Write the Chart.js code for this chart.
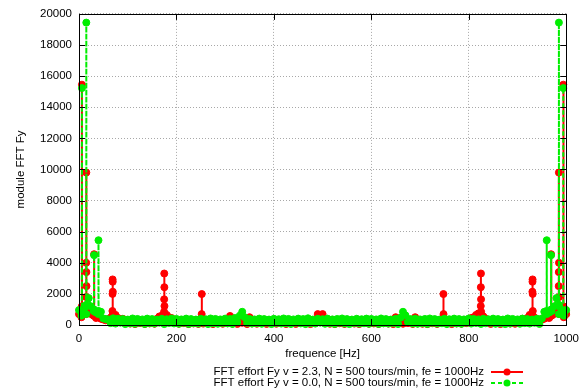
<!DOCTYPE html>
<html>
<head>
<meta charset="utf-8">
<script src="https://cdn.jsdelivr.net/npm/chart.js@4/dist/chart.umd.min.js"></script>
<style>
  html, body { margin: 0; padding: 0; background: #fff; }
  canvas { display: block; }
</style>
</head>
<body>
<canvas id="fftChart" width="586" height="392"></canvas>
<script>
// noise floor, one value per 5 Hz bin from 0 to 1000 Hz
const noiseStep = 5;

const greenNoise = [
  960,600,800,700,1730,1200,900,800,700,850,420,380,360,120,430,90,400,150,380,60,
  350,110,420,80,390,140,360,70,410,120,380,90,350,150,400,60,370,130,420,100,
  390,80,360,140,410,70,380,120,350,90,400,150,370,60,420,110,390,80,360,130,
  410,100,380,70,450,180,600,850,500,140,390,90,360,120,410,80,380,150,350,60,
  400,130,370,90,420,110,390,70,360,140,410,100,380,60,430,120,350,90,400,150,
  370,80,410,120,360,70,390,140,420,100,380,60,350,130,400,90,370,110,410,80,
  390,140,360,70,420,110,380,90,350,130,400,60,470,850,620,200,380,100,410,80,
  360,120,390,70,420,140,380,90,350,110,400,60,370,130,410,100,380,80,360,150,
  420,90,390,130,360,70,400,110,370,140,410,80,380,120,350,60,420,100,390,150,
  360,80,410,120,380,90,350,140,400,70,420,850,700,800,900,1200,1730,700,800,600,
  960
];

const redNoise = [
  700,500,900,1000,800,700,600,450,500,400,350,300,380,480,700,650,450,300,400,120,
  300,90,320,60,340,120,280,70,310,100,290,80,400,550,600,750,650,500,450,300,
  280,80,310,120,350,60,290,100,330,70,300,90,320,110,280,60,340,120,300,80,
  310,120,580,90,300,70,350,140,280,60,500,100,320,80,290,120,340,70,300,110,
  290,80,320,120,300,60,340,100,280,70,310,130,300,90,330,60,290,120,700,300,
  700,120,300,80,330,60,290,110,320,70,300,130,280,90,340,60,310,120,290,80,
  320,100,300,70,340,120,280,90,310,60,500,110,300,80,330,120,290,70,500,100,
  300,80,320,60,290,110,330,70,300,120,280,90,310,60,340,100,290,80,310,120,
  300,450,500,650,750,600,550,400,320,70,290,110,330,60,300,120,280,90,310,80,
  300,120,400,300,450,650,700,480,380,300,350,400,500,450,600,700,800,1000,900,500,
  700
];

// spectral lines (Hz / module)
const redPeakFreq = [5.8,6,6.2, 14.4,14.6,14.8,15,15.2,15.4,15.6, 30.8,31,31.2,
  68.6,68.8,69,69.2,69.4,69.6, 174.6,174.8,175,175.2,175.4,175.6, 251.8,252,252.2,
  747.8,748,748.2, 824.4,824.6,824.8,825,825.2,825.4, 930.4,930.6,930.8,931,931.2,931.4,
  968.8,969,969.2, 984.4,984.6,984.8,985,985.2,985.4,985.6, 993.8,994,994.2];
const redPeakVal = [1200,15450,1100, 700,1800,4000,9800,3400,2500,1000, 600,4550,700,
  900,2000,2930,2780,2140,700, 850,1650,3310,2430,1220,700, 700,1990,400,
  400,1990,700, 700,1220,2430,3310,1650,850, 700,2140,2780,2930,2000,900,
  700,4550,600, 1000,2500,3400,9800,4000,1800,700, 1100,15450,1200];

const greenPeakFreq = [5.8,6,6.2, 14.8,15,15.2, 30.8,31,31.2, 39.8,40,40.2,
  959.8,960,960.2, 968.8,969,969.2, 984.8,985,985.2, 993.8,994,994.2];
const greenPeakVal = [900,15230,800, 1200,19440,1300, 1000,4490,900, 800,5450,900,
  900,5450,800, 900,4490,1000, 1300,19440,1200, 800,15230,900];

const xTicks = [0, 200, 400, 600, 800, 1000];
const yTicks = [0, 2000, 4000, 6000, 8000, 10000, 12000, 14000, 16000, 18000, 20000];

const redLabel = 'FFT effort Fy v = 2.3, N = 500 tours/min, fe = 1000Hz';
const greenLabel = 'FFT effort Fy v = 0.0, N = 500 tours/min, fe = 1000Hz';

function buildSeries(noise, peakFreq, peakVal) {
  const pts = noise.map((v, i) => ({ x: i * noiseStep, y: v }));
  peakFreq.forEach((f, i) => pts.push({ x: f, y: peakVal[i] }));
  pts.sort((a, b) => a.x - b.x);
  return pts;
}

const FONT = '"Liberation Sans", Arial, Helvetica, sans-serif';
const FSIZE = 11.5;

const gnuplotFrame = {
  id: 'gnuplotFrame',
  afterDatasetsDraw(chart) {
    const { ctx, chartArea: a, scales } = chart;
    ctx.save();
    ctx.strokeStyle = '#000';
    ctx.lineWidth = 1;
    ctx.setLineDash([]);
    ctx.beginPath();
    yTicks.forEach(v => {
      const y = Math.round(scales.y.getPixelForValue(v)) + 0.5;
      ctx.moveTo(a.left, y); ctx.lineTo(a.left + 6, y);
      ctx.moveTo(a.right, y); ctx.lineTo(a.right - 6, y);
    });
    xTicks.forEach(v => {
      const x = Math.round(scales.x.getPixelForValue(v)) + 0.5;
      ctx.moveTo(x, a.bottom); ctx.lineTo(x, a.bottom - 6);
      ctx.moveTo(x, a.top); ctx.lineTo(x, a.top + 6);
    });
    ctx.stroke();
    ctx.strokeRect(Math.round(a.left) + 0.5, Math.round(a.top) + 0.5,
      Math.round(a.right - a.left), Math.round(a.bottom - a.top));
    ctx.restore();
  },
  afterDraw(chart) {
    const { ctx, chartArea: a } = chart;
    ctx.save();
    ctx.fillStyle = '#000';
    ctx.font = FSIZE + 'px ' + FONT;
    // axis titles
    ctx.textAlign = 'center';
    ctx.textBaseline = 'middle';
    ctx.fillText('frequence [Hz]', (a.left + a.right) / 2, 354);
    ctx.save();
    ctx.translate(21, (a.top + a.bottom) / 2);
    ctx.rotate(-Math.PI / 2);
    ctx.fillText('module FFT Fy', 0, 0);
    ctx.restore();
    // legend
    const rows = [
      { label: redLabel, color: '#ff0000', dash: [] },
      { label: greenLabel, color: '#00ee00', dash: [4, 3] }
    ];
    rows.forEach((r, i) => {
      const y = 372 + i * 11;
      ctx.fillStyle = '#000';
      ctx.textAlign = 'right';
      ctx.fillText(r.label, 484, y);
      ctx.strokeStyle = r.color;
      ctx.lineWidth = 2;
      ctx.setLineDash(r.dash);
      ctx.beginPath();
      ctx.moveTo(491, y); ctx.lineTo(523, y);
      ctx.stroke();
      ctx.setLineDash([]);
      ctx.fillStyle = r.color;
      ctx.beginPath();
      ctx.arc(507, y, 3.5, 0, Math.PI * 2);
      ctx.fill();
    });
    ctx.restore();
  }
};

const fftData = {
  datasets: [
    {
      label: greenLabel,
      data: buildSeries(greenNoise, greenPeakFreq, greenPeakVal),
      borderColor: '#00ee00',
      backgroundColor: '#00ee00',
      borderWidth: 2,
      borderDash: [4, 3],
      pointRadius: 3.5,
      pointBorderWidth: 1,
      clip: false
    },
    {
      label: redLabel,
      data: buildSeries(redNoise, redPeakFreq, redPeakVal),
      borderColor: '#ff0000',
      backgroundColor: '#ff0000',
      borderWidth: 2,
      pointRadius: 3.5,
      pointBorderWidth: 1,
      clip: false
    }
  ]
};

const plainTick = v => String(v);

const fftConfig = {
  type: 'line',
  data: fftData,
  options: {
    responsive: false,
    animation: false,
    devicePixelRatio: 1,
    layout: { padding: { left: 0, right: 15, top: 13, bottom: 0 } },
    plugins: {
      legend: { display: false },
      tooltip: { enabled: false }
    },
    scales: {
      x: {
        type: 'linear',
        min: 0,
        max: 1000,
        afterBuildTicks: s => { s.ticks = xTicks.map(v => ({ value: v })); },
        afterFit: s => { s.height = 67; },
        grid: { color: '#a8a8a8', lineWidth: 1, drawTicks: false },
        border: { display: false, dash: [1, 2] },
        ticks: { color: '#000', padding: 7, font: { size: FSIZE, family: FONT }, maxRotation: 0, callback: plainTick }
      },
      y: {
        min: 0,
        max: 20000,
        afterBuildTicks: s => { s.ticks = yTicks.map(v => ({ value: v })); },
        afterFit: s => { s.width = 79; },
        grid: { color: '#a8a8a8', lineWidth: 1, drawTicks: false },
        border: { display: false, dash: [1, 2] },
        ticks: { color: '#000', padding: 7, font: { size: FSIZE, family: FONT }, callback: plainTick }
      }
    }
  },
  plugins: [gnuplotFrame]
};

const fftChart = new Chart(document.getElementById('fftChart'), fftConfig);
</script>
</body>
</html>
